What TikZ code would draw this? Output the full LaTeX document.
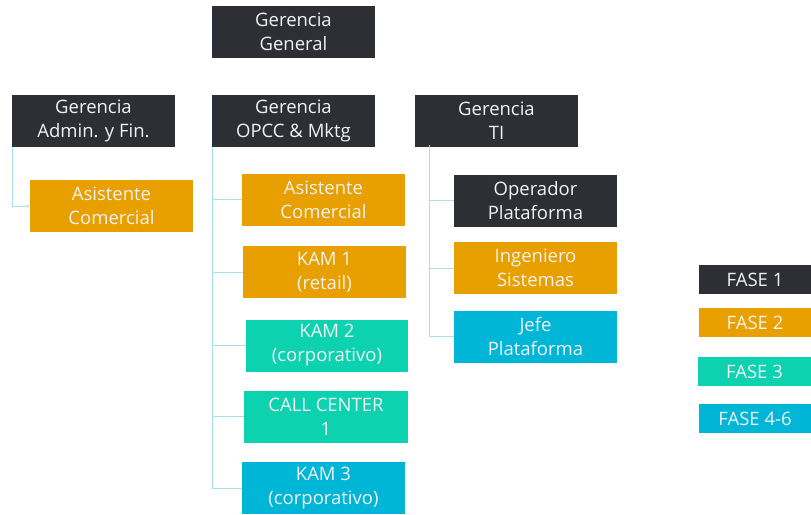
\documentclass[tikz,border=0pt]{standalone}
\usepackage{fontspec}
\setmainfont{Open Sans}
\usetikzlibrary{arrows.meta}
\definecolor{cdark}{HTML}{2E2F34}
\definecolor{corange}{HTML}{E89F00}
\definecolor{cteal}{HTML}{0DD2B0}
\definecolor{ccyan}{HTML}{00B6D6}
\definecolor{cline}{HTML}{A6E0EC}
\definecolor{ctext}{HTML}{F2F2F2}
\tikzset{
  box/.style={fill=#1, text=ctext, align=center, inner sep=0pt,
    minimum width=163pt, minimum height=52pt,
    font=\fontsize{18.5}{24}\selectfont},
  fase/.style={fill=#1, text=ctext, align=center, inner sep=0pt,
    minimum width=112pt, minimum height=29pt,
    font=\fontsize{18.5}{22}\selectfont},
  conn/.style={draw=cline, line width=1pt}
}
\begin{document}
\begin{tikzpicture}[x=1pt,y=-1pt]
\useasboundingbox (0,0) rectangle (811,514);
\fill[white] (0,0) rectangle (811,514);
% top row
\node[box=cdark] (gg) at (293.5,32) {Gerencia\\General};
\node[box=cdark] (adm) at (93.5,121) {Gerencia\\Admin. y Fin.};
\node[box=cdark] (opcc) at (293.5,121) {Gerencia\\OPCC \& Mktg};
\node[box=cdark] (ti) at (496.5,121) {Gerencia\\TI};
% admin branch
\node[box=corange] (ac1) at (111.5,206) {Asistente\\Comercial};
% opcc branch
\node[box=corange] (ac2) at (323.5,199.5) {Asistente\\Comercial};
\node[box=corange] (kam1) at (324.5,272) {KAM 1\\(retail)};
\node[box=cteal, minimum width=162pt] (kam2) at (327,345.5) {KAM 2\\(corporativo)};
\node[box=cteal, minimum width=164pt] (cc) at (326,416.5) {CALL CENTER\\1};
\node[box=ccyan] (kam3) at (323.5,488) {KAM 3\\(corporativo)};
% ti branch
\node[box=cdark] (op) at (535.5,200.5) {Operador\\Plataforma};
\node[box=corange] (ing) at (535.5,268) {Ingeniero\\Sistemas};
\node[box=ccyan] (jefe) at (535.5,336.5) {Jefe\\Plataforma};
% legend
\node[fase=cdark] (f1) at (755,279.5) {FASE 1};
\node[fase=corange] (f2) at (755,322.5) {FASE 2};
\node[fase=cteal, minimum width=113pt] (f3) at (754.5,371.5) {FASE 3};
\node[fase=ccyan] (f4) at (755,418.5) {FASE 4-6};
% connectors
\coordinate (a0) at ([xshift=0.5pt]adm.south west);
\draw[conn,-{Latex[length=3pt,width=3pt]}] (a0) |- (ac1.west);
\coordinate (o0) at ([xshift=1pt]opcc.south west);
\draw[conn] (o0) |- (ac2.west);
\draw[conn] (o0) |- (kam1.west);
\draw[conn] (o0) |- (kam2.west);
\draw[conn] (o0) |- (cc.west);
\draw[conn] (o0) |- (kam3.west);
\coordinate (t0) at ([xshift=15pt,yshift=2pt]ti.south west);
\draw[conn] (t0) |- (op.west);
\draw[conn] (t0) |- (ing.west);
\draw[conn] (t0) |- (jefe.west);
\end{tikzpicture}
\end{document}
